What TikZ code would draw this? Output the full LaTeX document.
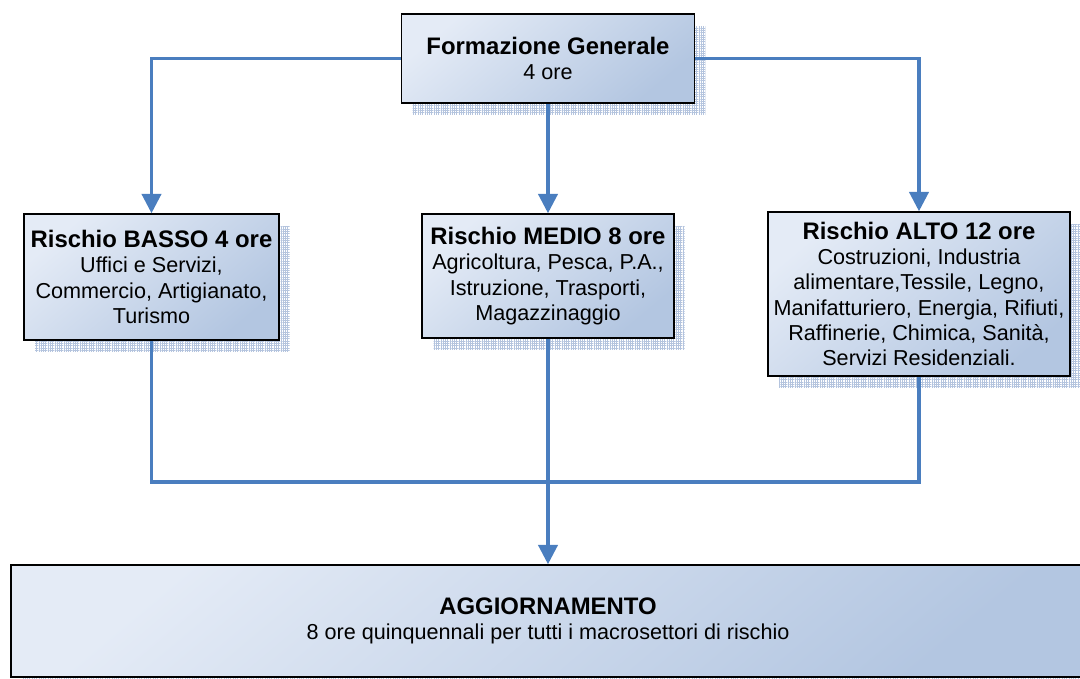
\documentclass[tikz,border=0pt]{standalone}
\usepackage{fontspec}
\setmainfont{Liberation Sans}
\usetikzlibrary{arrows.meta,shadows,patterns}
\definecolor{boxlight}{HTML}{E4EBF6}
\definecolor{boxdark}{HTML}{B3C6E1}
\definecolor{linkblue}{HTML}{4A7EBF}
\definecolor{shadowc}{HTML}{B4C4DE}
\pgfdeclarepatternformonly{finegrid}{\pgfqpoint{-1pt}{-1pt}}{\pgfqpoint{1pt}{1pt}}{\pgfqpoint{1.3pt}{1.3pt}}{%
  \pgfsetlinewidth{0.35pt}
  \pgfpathmoveto{\pgfqpoint{0pt}{0pt}}\pgfpathlineto{\pgfqpoint{1.3pt}{0pt}}
  \pgfpathmoveto{\pgfqpoint{0pt}{0pt}}\pgfpathlineto{\pgfqpoint{0pt}{1.3pt}}
  \pgfusepath{stroke}}
\newcommand{\riskhead}[1]{{\bfseries\fontsize{13.6}{17}\selectfont #1}\\}
\begin{document}
\begin{tikzpicture}[x=0.02cm,y=-0.02cm,font=\fontsize{12.3}{14.4}\selectfont,
  riskbox/.style={draw=black, line width=0.9pt, align=center, inner sep=0pt,
    top color=boxlight, bottom color=boxdark, shading angle=40,
    drop shadow={shadow xshift=0.22cm, shadow yshift=-0.24cm, opacity=1,
      fill=none, pattern=finegrid, pattern color=shadowc}},
  link/.style={draw=linkblue, line width=1.8pt},
  tip/.style={-{Triangle[length=11pt,width=11pt]}}]
  \useasboundingbox (0,0) rectangle (1080,679);
  \node[riskbox, minimum width=5.86cm, minimum height=1.78cm] (gen) at (548,58.5)
    {\riskhead{Formazione Generale}4 ore};
  \node[riskbox, minimum width=5.1cm, minimum height=2.52cm] (basso) at (151.5,277)
    {\riskhead{Rischio BASSO 4 ore}Uffici e Servizi,\\Commercio, Artigianato,\\Turismo};
  \node[riskbox, minimum width=5.04cm, minimum height=2.48cm] (medio) at (548,276)
    {\riskhead{Rischio MEDIO 8 ore}Agricoltura, Pesca, P.A.,\\Istruzione, Trasporti,\\Magazzinaggio};
  \node[riskbox, minimum width=6.04cm, minimum height=3.28cm] (alto) at (919,294)
    {\riskhead{Rischio ALTO 12 ore}Costruzioni, Industria\\alimentare,Tessile, Legno,\\Manifatturiero, Energia, Rifiuti,\\Raffinerie, Chimica, Sanità,\\Servizi Residenziali.};
  \node[riskbox, minimum width=21.48cm, minimum height=2.24cm] (agg) at (548,621)
    {\riskhead{AGGIORNAMENTO}8 ore quinquennali per tutti i macrosettori di rischio};
  \coordinate (join) at (548,482);
  \draw[link,tip] (gen.west) -| (basso.north);
  \draw[link,tip] (gen.south) -- (medio.north);
  \draw[link,tip] (gen.east) -| (alto.north);
  \draw[link] (basso.south) |- (join) -| (alto.south);
  \draw[link,tip] (medio.south) -- (agg.north);
\end{tikzpicture}
\end{document}
